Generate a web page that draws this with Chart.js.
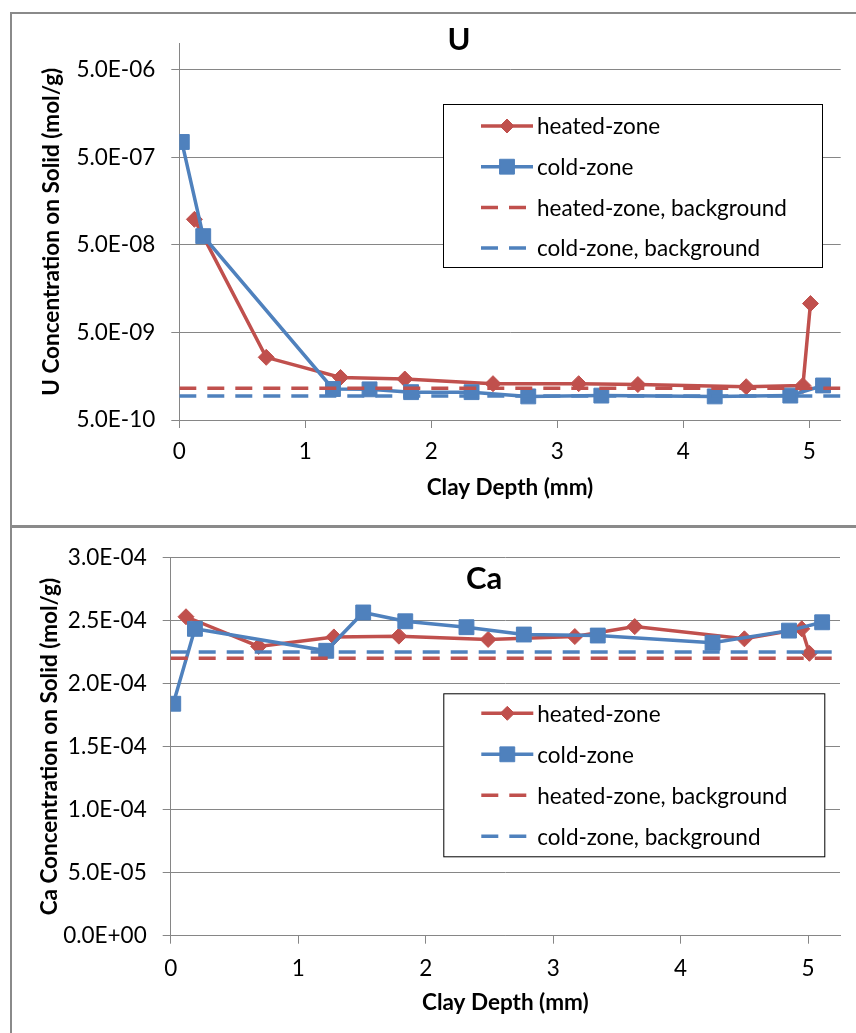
<!DOCTYPE html>
<html>
<head>
<meta charset="utf-8">
<title>U and Ca on solid vs clay depth</title>
<script src="https://cdn.jsdelivr.net/npm/chart.js@4.4.1/dist/chart.umd.min.js"></script>
<style>
  html, body { margin: 0; padding: 0; background: #fff; overflow: hidden; }
  .frame { position: absolute; left: 10px; width: 870px; border: 2px solid #8a8a8a; box-sizing: border-box; background: #fff; }
  #frameU { top: 12px; height: 515px; }
  #frameCa { top: 526px; height: 520px; }
  .frame canvas { display: block; }
</style>
</head>
<body>
<div class="frame" id="frameU"><canvas id="uChart" width="866" height="511"></canvas></div>
<div class="frame" id="frameCa"><canvas id="caChart" width="866" height="516"></canvas></div>
<script>
// depth of each sample slice (mm)
const heatedDepth = [0.12, 0.69, 1.28, 1.79, 2.49, 3.17, 3.64, 4.50, 4.95, 5.01];
const coldDepth   = [0.02, 0.19, 1.22, 1.51, 1.84, 2.32, 2.77, 3.35, 4.25, 4.85, 5.11];

// U on solid (mol/g)
const uHeated = [9.8e-8, 2.6e-9, 1.53e-9, 1.47e-9, 1.3e-9, 1.3e-9, 1.27e-9, 1.2e-9, 1.24e-9, 1.07e-8];
const uCold   = [7.5e-7, 6.3e-8, 1.13e-9, 1.12e-9, 1.04e-9, 1.04e-9, 9.3e-10, 9.5e-10, 9.3e-10, 9.5e-10, 1.24e-9];
const uHeatedBg = 1.15e-9;
const uColdBg   = 9.4e-10;

// Ca on solid (mol/g)
const caHeated = [2.53e-4, 2.295e-4, 2.37e-4, 2.376e-4, 2.35e-4, 2.373e-4, 2.452e-4, 2.355e-4, 2.434e-4, 2.24e-4];
const caCold   = [1.84e-4, 2.434e-4, 2.26e-4, 2.564e-4, 2.494e-4, 2.447e-4, 2.389e-4, 2.381e-4, 2.324e-4, 2.42e-4, 2.486e-4];
const caHeatedBg = 2.2e-4;
const caColdBg   = 2.25e-4;

// axes
const depthRange = [0, 5.25];
const depthTicks = [0, 1, 2, 3, 4, 5];
const uRange = [5e-10, 1e-5];
const uTicks = [5e-10, 5e-9, 5e-8, 5e-7, 5e-6];
const caRange = [0, 3e-4];
const caTicks = [0, 5e-5, 1e-4, 1.5e-4, 2e-4, 2.5e-4, 3e-4];

const RED = '#C0504D';
const BLUE = '#4F81BD';
const GRID = '#868686';
const FONT = 'Lato';
const TXT = 22.5;

Chart.defaults.font.family = FONT;
Chart.defaults.color = '#000';

// 5.0E-06 style labels
function sciLabel(v) {
  if (v === 0) return '0.0E+00';
  const parts = Number(v).toExponential(1).split('e');
  const e = parseInt(parts[1], 10);
  return parts[0] + 'E' + (e < 0 ? '-' : '+') + String(Math.abs(e)).padStart(2, '0');
}

function pts(xs, ys) { return xs.map((x, i) => ({ x: x, y: ys[i] })); }
function flat(v) { return [{ x: depthRange[0], y: v }, { x: depthRange[1], y: v }]; }

function drawMarker(ctx, style, x, y, r, color) {
  ctx.save();
  ctx.fillStyle = color;
  ctx.strokeStyle = color;
  ctx.lineWidth = 1;
  ctx.beginPath();
  if (style === 'rectRot') {
    ctx.moveTo(x - r, y); ctx.lineTo(x, y - r); ctx.lineTo(x + r, y); ctx.lineTo(x, y + r);
    ctx.closePath();
  } else {
    const h = r * Math.SQRT1_2;
    ctx.rect(x - h, y - h, 2 * h, 2 * h);
  }
  ctx.fill();
  ctx.stroke();
  ctx.restore();
}

// boxed legend sitting inside the plot
const boxLegend = {
  id: 'boxLegend',
  afterDraw(chart, args, o) {
    const ctx = chart.ctx;
    ctx.save();
    ctx.fillStyle = '#fff';
    ctx.fillRect(o.x, o.y, o.w, o.h);
    ctx.strokeStyle = '#000';
    ctx.lineWidth = 1;
    ctx.strokeRect(o.x + 0.5, o.y + 0.5, o.w - 1, o.h - 1);
    ctx.font = o.size + 'px ' + FONT;
    ctx.textBaseline = 'middle';
    chart.data.datasets.forEach((ds, i) => {
      const cy = o.y + o.first + i * o.gap;
      ctx.strokeStyle = ds.borderColor;
      ctx.lineWidth = ds.borderWidth;
      ctx.setLineDash(ds.borderDash || []);
      ctx.beginPath();
      ctx.moveTo(o.x + 38, cy);
      ctx.lineTo(o.x + (ds.borderDash ? 84 : 90), cy);
      ctx.stroke();
      ctx.setLineDash([]);
      if (ds.pointRadius > 0) {
        drawMarker(ctx, ds.pointStyle, o.x + 64, cy, ds.pointStyle === 'rect' ? 10.5 : 7, ds.borderColor);
      }
      ctx.fillStyle = '#000';
      ctx.fillText(ds.label, o.x + 94, cy + 1);
    });
    ctx.restore();
  }
};

const panelTitle = {
  id: 'panelTitle',
  afterDraw(chart, args, o) {
    const ctx = chart.ctx;
    ctx.save();
    ctx.font = 'bold 31px ' + FONT;
    ctx.fillStyle = '#000';
    ctx.textAlign = 'center';
    ctx.textBaseline = 'middle';
    ctx.fillText(o.text, o.x, o.y);
    ctx.restore();
  }
};

function seriesSets(heated, cold, heatedBg, coldBg) {
  return [
    { label: 'heated-zone', data: pts(heatedDepth, heated), borderColor: RED, backgroundColor: RED,
      borderWidth: 3.5, pointStyle: 'rectRot', pointRadius: 8, pointBorderWidth: 1, order: 4 },
    { label: 'cold-zone', data: pts(coldDepth, cold), borderColor: BLUE, backgroundColor: BLUE,
      borderWidth: 3.5, pointStyle: 'rect', pointRadius: 10.5, pointBorderWidth: 1, order: 3 },
    { label: 'heated-zone, background', data: flat(heatedBg), borderColor: RED, backgroundColor: RED,
      borderWidth: 3.5, borderDash: [17, 11], pointRadius: 0, order: 2 },
    { label: 'cold-zone, background', data: flat(coldBg), borderColor: BLUE, backgroundColor: BLUE,
      borderWidth: 3.5, borderDash: [17, 11], pointRadius: 0, order: 1 }
  ];
}

function depthAxis(height, labelPad, titlePad) {
  return {
    type: 'linear', min: depthRange[0], max: depthRange[1],
    afterBuildTicks: s => { s.ticks = depthTicks.map(v => ({ value: v })); },
    afterFit: s => { s.height = height; },
    grid: { drawOnChartArea: false, drawTicks: true, tickLength: 8, color: GRID },
    border: { display: true, color: GRID, width: 1 },
    ticks: { padding: labelPad, font: { size: TXT }, color: '#000', maxRotation: 0 },
    title: { display: true, text: 'Clay Depth (mm)', color: '#000',
      font: { size: TXT, weight: 'bold' }, padding: { top: 0, bottom: titlePad } }
  };
}

function concAxis(type, range, ticks, width, title, titlePad) {
  return {
    type: type, min: range[0], max: range[1],
    afterBuildTicks: s => { s.ticks = ticks.map(v => ({ value: v })); },
    afterFit: s => { s.width = width; },
    grid: { color: GRID, tickLength: 8 },
    border: { display: true, color: GRID, width: 1 },
    ticks: { padding: 16, font: { size: TXT }, color: '#000', callback: v => sciLabel(v) },
    title: { display: true, text: title, color: '#000',
      font: { size: TXT, weight: 'bold' }, padding: { top: titlePad, bottom: 0 } }
  };
}

new Chart(document.getElementById('uChart'), {
  type: 'line',
  data: { datasets: seriesSets(uHeated, uCold, uHeatedBg, uColdBg) },
  options: {
    responsive: false, animation: false,
    layout: { padding: { top: 22, right: 37.3, left: 0, bottom: 0 } },
    elements: { line: { tension: 0 } },
    scales: {
      x: depthAxis(105, 10.2, 23.5),
      y: concAxis('logarithmic', uRange, uTicks, 167.3, 'U Concentration on Solid (mol/g)', 26.5)
    },
    plugins: {
      legend: { display: false },
      tooltip: { enabled: false },
      boxLegend: { x: 431, y: 90, w: 380, h: 164, first: 22, gap: 40.7, size: TXT },
      panelTitle: { text: 'U', x: 447, y: 26 }
    }
  },
  plugins: [boxLegend, panelTitle]
});

new Chart(document.getElementById('caChart'), {
  type: 'line',
  data: { datasets: seriesSets(caHeated, caCold, caHeatedBg, caColdBg) },
  options: {
    responsive: false, animation: false,
    layout: { padding: { top: 24.7, right: 38, left: 0, bottom: 0 } },
    elements: { line: { tension: 0 } },
    scales: {
      x: depthAxis(108.3, 11.8, 27.5),
      y: concAxis('linear', caRange, caTicks, 158.7, 'Ca Concentration on Solid (mol/g)', 24.5)
    },
    plugins: {
      legend: { display: false },
      tooltip: { enabled: false },
      boxLegend: { x: 431.3, y: 165.3, w: 382, h: 164, first: 20, gap: 41, size: TXT },
      panelTitle: { text: 'Ca', x: 472, y: 51 }
    }
  },
  plugins: [boxLegend, panelTitle]
});
</script>
</body>
</html>
